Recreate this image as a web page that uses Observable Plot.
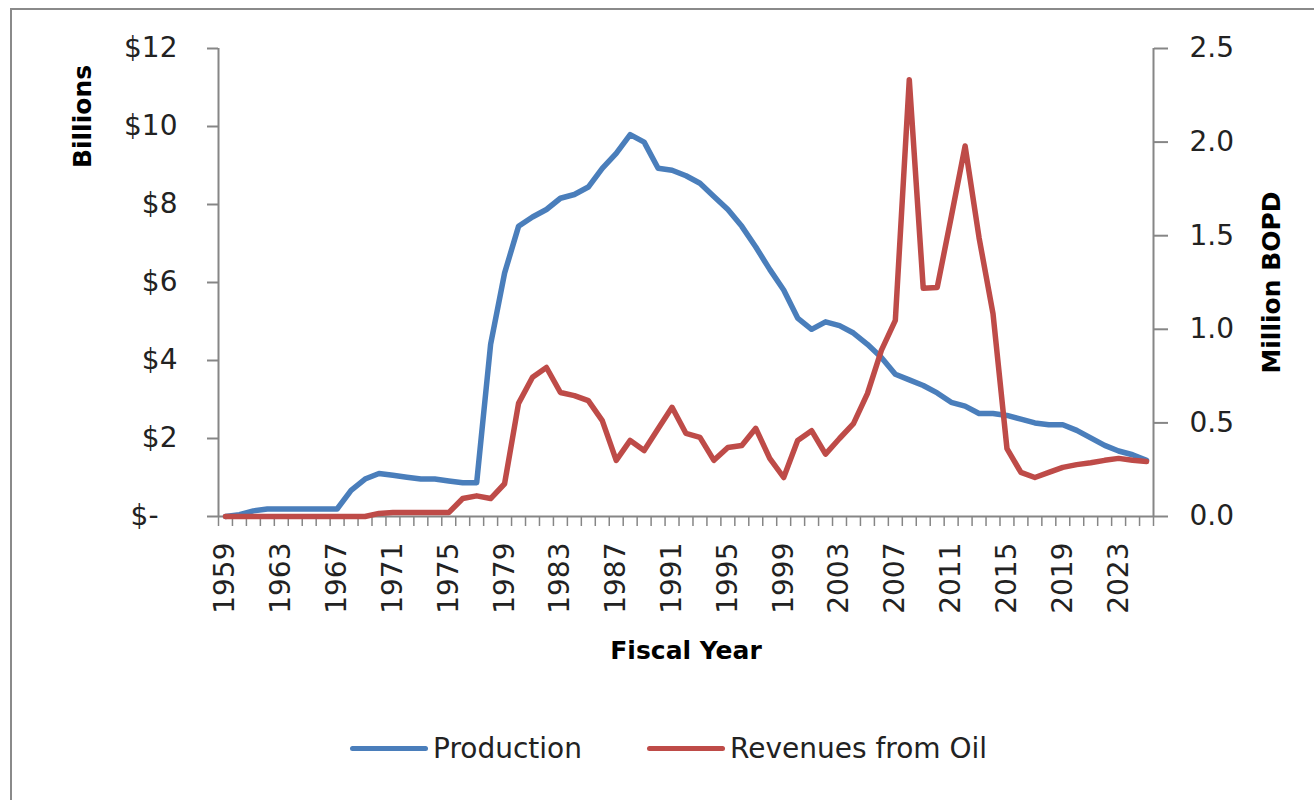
<!DOCTYPE html>
<html><head><meta charset="utf-8">
<script src="https://cdn.jsdelivr.net/npm/d3@7"></script>
<script src="https://cdn.jsdelivr.net/npm/@observablehq/plot@0.6"></script>
<style>
html,body{margin:0;padding:0;background:#fff;overflow:hidden;width:1314px;height:800px}
#wrap{position:relative;width:1314px;height:800px;overflow:hidden}
#border{position:absolute;left:10px;top:8px;width:1400px;height:900px;border:2px solid #8a8a8a;box-sizing:border-box}
#chart{position:absolute;left:0;top:0}
#legend{position:absolute;left:0;top:720px;width:1314px;height:56px;font-family:"DejaVu Sans";font-size:28px;color:#222}
.item{position:absolute;top:0;height:56px;display:flex;align-items:center;white-space:nowrap}
.sw{display:inline-block;width:78px;height:5px;border-radius:3px;margin-right:5px}
</style></head>
<body><div id="wrap"><div id="border"></div><div id="chart"></div><div id="legend"></div></div>
<script>
const years = [1959,1960,1961,1962,1963,1964,1965,1966,1967,1968,1969,1970,1971,1972,1973,1974,1975,1976,1977,1978,1979,1980,1981,1982,1983,1984,1985,1986,1987,1988,1989,1990,1991,1992,1993,1994,1995,1996,1997,1998,1999,2000,2001,2002,2003,2004,2005,2006,2007,2008,2009,2010,2011,2012,2013,2014,2015,2016,2017,2018,2019,2020,2021,2022,2023,2024,2025];
// Million barrels of oil per day (right axis)
const production = [0.00,0.01,0.03,0.04,0.04,0.04,0.04,0.04,0.04,0.14,0.20,0.23,0.22,0.21,0.20,0.20,0.19,0.18,0.18,0.92,1.30,1.55,1.60,1.64,1.70,1.72,1.76,1.86,1.94,2.04,2.00,1.86,1.85,1.82,1.78,1.71,1.64,1.55,1.44,1.32,1.21,1.06,1.00,1.04,1.02,0.98,0.92,0.85,0.76,0.73,0.70,0.66,0.61,0.59,0.55,0.55,0.54,0.52,0.50,0.49,0.49,0.46,0.42,0.38,0.35,0.33,0.30];
// Billions of dollars (left axis)
const revenue = [0,0,0,0,0,0,0,0,0,0,0,0.08,0.10,0.10,0.10,0.10,0.10,0.46,0.53,0.46,0.84,2.90,3.57,3.82,3.18,3.10,2.97,2.46,1.44,1.95,1.69,2.25,2.80,2.13,2.03,1.44,1.77,1.82,2.26,1.49,1.00,1.95,2.20,1.60,2.00,2.38,3.15,4.26,5.03,11.2,5.85,5.87,7.67,9.50,7.15,5.20,1.74,1.13,1.00,1.13,1.26,1.33,1.38,1.44,1.49,1.44,1.41];
const leftTicks = [0,2,4,6,8,10,12];
const rightTicks = [0,0.5,1.0,1.5,2.0,2.5];
const labelYears = [1959,1963,1967,1971,1975,1979,1983,1987,1991,1995,1999,2003,2007,2011,2015,2019,2023];
const seriesNames = ["Production","Revenues from Oil"];
const seriesColors = ["#4A7EBB","#BE4B48"];

const ratio = 12/2.5;
const prodRows = years.map((yr,i)=>({year:yr, v: production[i]*ratio}));
const revRows = years.map((yr,i)=>({year:yr, v: revenue[i]}));
const bounds = [...years.map(y=>y-0.5), years[years.length-1]+0.5];
const x0 = years[0]-0.5, x1 = years[years.length-1]+0.5;
const H = 720;
const axisColor = "#868686";

const chart = Plot.plot({
  width: 1314, height: H,
  marginLeft: 218, marginRight: 161, marginTop: 48, marginBottom: H-516,
  style: {fontFamily:"DejaVu Sans", fontSize:"28px", color:"#222", background:"transparent", overflow:"visible"},
  x: {type:"linear", domain:[x0, x1]},
  y: {domain:[0,12]},
  marks: [
    Plot.axisY(leftTicks.filter(d=>d>0), {anchor:"left", tickSize:11, tickPadding:30, tickFormat:d=>"$"+d, label:null, stroke:axisColor, strokeWidth:2}),
    Plot.axisY([0], {anchor:"left", tickSize:11, tickPadding:49, tickFormat:()=>"$-", label:null, stroke:axisColor, strokeWidth:2}),
    Plot.axisY(rightTicks.map(d=>d*ratio), {anchor:"right", tickSize:14, tickPadding:22, tickFormat:d=>(d/ratio).toFixed(1), label:null, stroke:axisColor, strokeWidth:2}),
    Plot.axisX(bounds, {anchor:"bottom", tickSize:10, tickFormat:()=>"", label:null, stroke:axisColor, strokeWidth:1.5}),
    Plot.axisX(labelYears, {anchor:"bottom", tickSize:0, tickPadding:26, tickRotate:-90, tickFormat:d=>String(d), label:null}),
    Plot.ruleX([x0, x1], {stroke:axisColor, strokeWidth:2}),
    Plot.ruleY([0], {stroke:axisColor, strokeWidth:2}),
    Plot.lineY(prodRows, {x:"year", y:"v", stroke:seriesColors[0], strokeWidth:5.5, strokeLinejoin:"round", strokeLinecap:"round"}),
    Plot.lineY(revRows, {x:"year", y:"v", stroke:seriesColors[1], strokeWidth:5.5, strokeLinejoin:"round", strokeLinecap:"round"}),
    Plot.text(["Billions"], {text:d=>d, frameAnchor:"top-left", dx:-136, dy:68, rotate:-90, textAnchor:"middle", lineAnchor:"middle", fontWeight:"bold", fontSize:25, fill:"#000"}),
    Plot.text(["Million BOPD"], {text:d=>d, frameAnchor:"right", dx:118, rotate:-90, textAnchor:"middle", lineAnchor:"middle", fontWeight:"bold", fontSize:25, fill:"#000"}),
    Plot.text(["Fiscal Year"], {text:d=>d, frameAnchor:"bottom", dy:134, textAnchor:"middle", lineAnchor:"middle", fontWeight:"bold", fontSize:25, fill:"#000"})
  ]
});
document.getElementById("chart").appendChild(chart);

const legend = document.getElementById("legend");
const lefts = [350, 647];
seriesNames.forEach((name,i)=>{
  const it = document.createElement("div");
  it.className = "item";
  it.style.left = lefts[i] + "px";
  const sw = document.createElement("span");
  sw.className = "sw";
  sw.style.background = seriesColors[i];
  it.appendChild(sw);
  it.appendChild(document.createTextNode(name));
  legend.appendChild(it);
});
</script>
</body></html>
